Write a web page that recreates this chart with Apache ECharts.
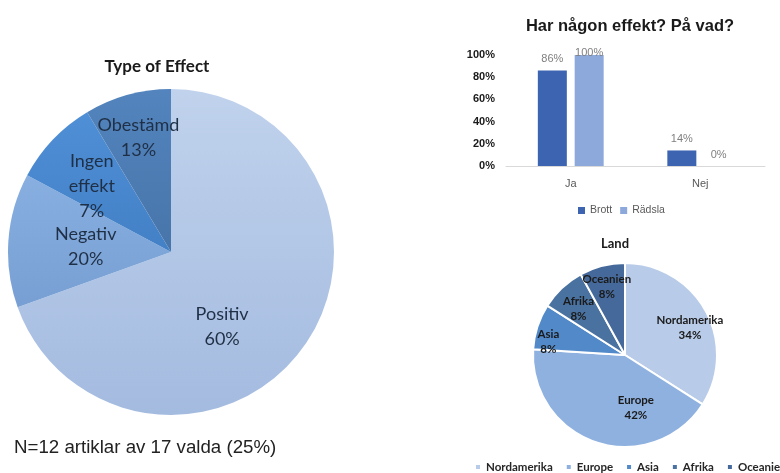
<!DOCTYPE html>
<html>
<head>
<meta charset="utf-8">
<script src="https://cdn.jsdelivr.net/npm/echarts@6/dist/echarts.min.js"></script>
<style>
  html, body { margin: 0; padding: 0; background: #fff; }
  #chart { width: 780px; height: 473px; }
</style>
</head>
<body>
<div id="chart"></div>
<script>
// Type of Effect - slice sizes as drawn, and the printed labels
const effectNames = ['Positiv', 'Negativ', 'Ingen\neffekt', 'Obestämd'];
const effectSizes = [69.5, 13.3, 8.6, 8.6];
const effectLabels = ['60%', '20%', '7%', '13%'];

// Har någon effekt? På vad?
const answerCats = ['Ja', 'Nej'];
const brott = [0.86, 0.14];
const radsla = [1.00, 0.00];

// Land
const landNames = ['Nordamerika', 'Europe', 'Asia', 'Afrika', 'Oceanien'];
const landValues = [34, 42, 8, 8, 8];

const effectColors = [
  ['#c0d2ec', '#a4bbe0'],
  ['#88afe0', '#779fd3'],
  ['#4f8fd6', '#4380c6'],
  ['#5384bd', '#4775aa']
];
const landColors = ['#b8cbe8', '#8eb1e0', '#5189c9', '#4a72a0', '#44699a'];

// label nudges (px) so text sits where the original put it
const effectNudge = [[-18, 26], [-1, 1], [-18, -8], [-10, -33]];
const landNudge = [[22, -4], [26, 6], [-30, 2], [-13, -10], [-6, -21]];

const pct = v => Math.round(v * 100) + '%';

const chart = echarts.init(document.getElementById('chart'));

const option = {
  animation: false,
  title: [
    { text: 'Type of Effect', left: 152, top: 53, textAlign: 'center',
      textStyle: { fontFamily: 'Lato', fontSize: 17, fontWeight: 'bold', color: '#1a1a1a' } },
    { text: 'Har någon effekt? På vad?', left: 625, top: 13, textAlign: 'center',
      textStyle: { fontFamily: 'Liberation Sans', fontSize: 16.5, fontWeight: 'bold', color: '#1a1a1a' } },
    { text: 'Land', left: 610, top: 232, textAlign: 'center',
      textStyle: { fontFamily: 'Lato', fontSize: 13, fontWeight: 'bold', color: '#1a1a1a' } },
    { text: 'N=12 artiklar av 17 valda (25%)', left: 9, top: 433,
      textStyle: { fontFamily: 'Liberation Sans', fontSize: 18.7, fontWeight: 'normal', color: '#222' } }
  ],
  legend: [
    { data: ['Brott', 'Rädsla'], left: 573, top: 200, itemWidth: 7, itemHeight: 7, itemGap: 8,
      selectedMode: false, icon: 'rect',
      textStyle: { fontFamily: 'Liberation Sans', fontSize: 10.5, color: '#595959' } },
    { data: landNames, left: 469, top: 456, width: 500, itemWidth: 6, itemHeight: 6, itemGap: 12,
      selectedMode: false, icon: 'rect',
      textStyle: { fontFamily: 'Lato', fontSize: 11.5, fontWeight: 'bold', color: '#262626' } }
  ],
  grid: { left: 506, right: 15, top: 55, bottom: 307 },
  xAxis: {
    type: 'category', data: answerCats,
    axisLine: { lineStyle: { color: '#d9d9d9' } },
    axisTick: { show: false },
    axisLabel: { fontFamily: 'Liberation Sans', fontSize: 11, color: '#595959', margin: 12 }
  },
  yAxis: {
    type: 'value', min: 0, max: 1, interval: 0.2,
    axisLine: { show: false }, axisTick: { show: false }, splitLine: { show: false },
    axisLabel: { fontFamily: 'Liberation Sans', fontSize: 11, fontWeight: 'bold', color: '#1a1a1a',
      margin: 11, formatter: pct }
  },
  series: [
    {
      type: 'pie', center: [171, 252], radius: 163, startAngle: 90, clockwise: true,
      data: effectNames.map((n, i) => ({
        name: n, value: effectSizes[i],
        itemStyle: { color: new echarts.graphic.LinearGradient(0, 0, 0, 1, [
          { offset: 0, color: effectColors[i][0] }, { offset: 1, color: effectColors[i][1] }]) }
      })),
      label: {
        position: 'inside', fontFamily: 'Lato', fontSize: 18, lineHeight: 25, color: '#1f2f45',
        formatter: p => p.name + '\n' + effectLabels[p.dataIndex]
      },
      labelLayout: p => ({ dx: effectNudge[p.dataIndex][0], dy: effectNudge[p.dataIndex][1] }),
      emphasis: { disabled: true }
    },
    {
      name: 'Brott', type: 'bar', data: brott, barWidth: 29, barGap: '27%',
      itemStyle: { color: '#3c64b1' },
      label: { show: true, position: 'top', distance: 6, fontFamily: 'Liberation Sans', fontSize: 11,
        color: '#7f7f7f', formatter: p => pct(p.value) }
    },
    {
      name: 'Rädsla', type: 'bar', barWidth: 29,
      // a label at the very top of the plot gets pushed down onto the bar
      data: radsla.map(v => v >= 1 ? { value: v, label: { distance: -3 } } : v),
      itemStyle: { color: '#8da8db' },
      label: { show: true, position: 'top', distance: 6, fontFamily: 'Liberation Sans', fontSize: 11,
        color: '#7f7f7f', formatter: p => pct(p.value) }
    },
    {
      type: 'pie', center: [625, 355], radius: 92, startAngle: 90, clockwise: true,
      data: landNames.map((n, i) => ({ name: n, value: landValues[i], itemStyle: { color: landColors[i] } })),
      itemStyle: { borderColor: '#fff', borderWidth: 2 },
      label: {
        position: 'inside', fontFamily: 'Lato', fontSize: 11.5, fontWeight: 'bold', lineHeight: 15,
        color: '#1a1a1a', formatter: p => p.name + '\n' + p.value + '%'
      },
      labelLayout: p => ({ dx: landNudge[p.dataIndex][0], dy: landNudge[p.dataIndex][1] }),
      emphasis: { disabled: true }
    }
  ]
};

chart.setOption(option);
</script>
</body>
</html>
